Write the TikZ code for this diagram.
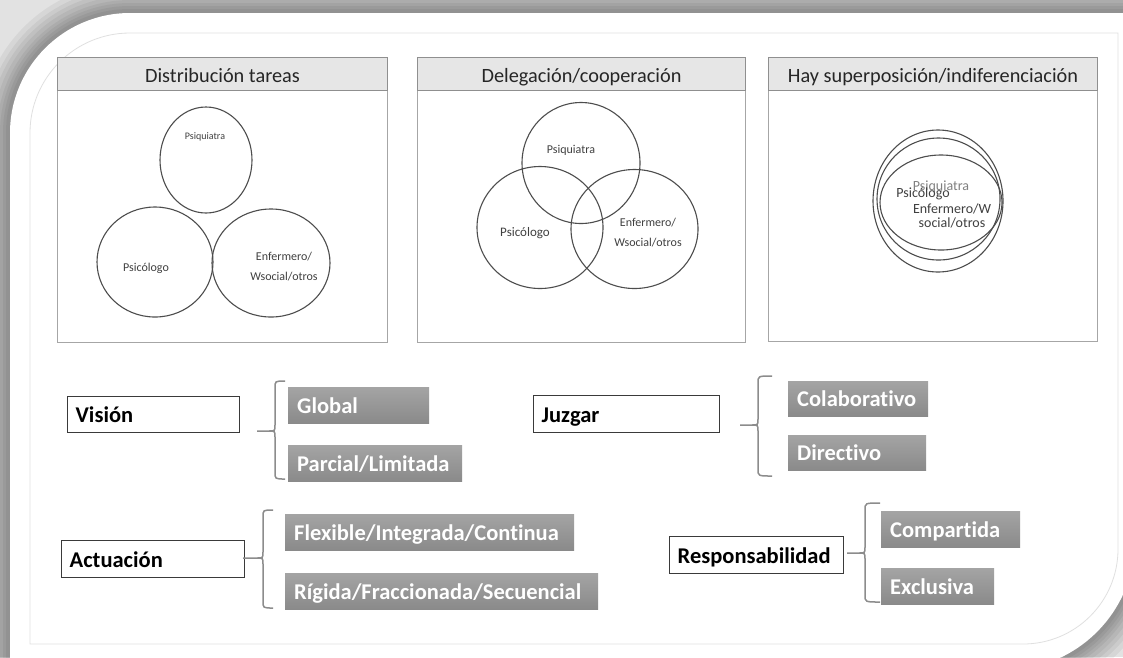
\documentclass[tikz,border=0pt]{standalone}
\usepackage{fontspec}
\setmainfont{Carlito}[Ligatures=NoCommon]
\usetikzlibrary{shapes.geometric}

\definecolor{pagebg}{HTML}{E2E2E2}
\definecolor{innerline}{HTML}{E0E0E0}
\definecolor{panelline}{HTML}{A6A6A6}
\definecolor{hdrline}{HTML}{8F8F8F}
\definecolor{hdrfill}{HTML}{E6E6E6}
\definecolor{ringline}{HTML}{4D4D4D}
\definecolor{keyline}{HTML}{3A3A3A}
\definecolor{optlight}{HTML}{A4A4A4}
\definecolor{optdark}{HTML}{8A8A8A}
\definecolor{braceline}{HTML}{8C8C8C}

% outline of the white card: big rounded top-left and bottom-right corners
\newcommand{\cardoutline}{(10,670) -- (10,133) arc[start angle=180,end angle=270,radius=120]
  -- (1135,13) -- (1135,540) arc[start angle=0,end angle=90,radius=130] -- cycle}

% curly brace opening to the right:
% #1 hook x, #2 spine x, #3 tip x, #4 top y, #5 middle y, #6 bottom y
\newcommand{\openbrace}[6]{%
  \draw[brace] (#1,#4) .. controls (#2,#4) .. (#2,#4+7) -- (#2,#5-6)
    .. controls (#2,#5) .. (#2-6,#5) -- (#3,#5)
    (#2-6,#5) .. controls (#2,#5) .. (#2,#5+6) -- (#2,#6-7)
    .. controls (#2,#6) .. (#1,#6);}

\begin{document}
\begin{tikzpicture}[x=1pt,y=-1pt,
  panel/.style={draw=panelline, line width=1pt, fill=white, anchor=north west,
    inner sep=0pt},
  hdr/.style={draw=hdrline, fill=hdrfill, line width=1pt, anchor=north west,
    inner sep=0pt, minimum height=33pt, text=black!85, text height=16pt,
    text depth=0pt, font=\fontsize{20.3}{24}\selectfont},
  ring/.style={ellipse, draw=ringline, line width=1.1pt, inner sep=0pt},
  tag/.style={text=black!75, inner sep=0pt, align=center,
    font=\fontsize{12}{20}\selectfont},
  key/.style={draw=keyline, line width=1.4pt, fill=white, anchor=north west,
    inner xsep=8pt, inner ysep=0pt, align=left, text=black,
    text height=18pt, text depth=2pt,
    font=\bfseries\fontsize{22.5}{26}\selectfont},
  opt/.style={top color=optlight, bottom color=optdark, anchor=north west,
    inner xsep=9pt, inner ysep=0pt, align=left, text=white,
    text height=18pt, text depth=2pt,
    font=\bfseries\fontsize{22.5}{26}\selectfont},
  brace/.style={draw=braceline, line width=1.5pt}]

\useasboundingbox (0,0) rectangle (1123,657);
\clip (0,0) rectangle (1123,657);

% backdrop and soft shadow round the card
\fill[pagebg] (0,0) rectangle (1123,657);
\foreach \w in {60,50,42,34,26,20,14,8}
  \draw[black, opacity=0.05, line width=\w pt] \cardoutline;
\fill[white] \cardoutline;
\draw[innerline, line width=0.8pt] (30,644) -- (30,133)
  arc[start angle=180,end angle=270,radius=100] -- (1118,33) -- (1118,549)
  arc[start angle=0,end angle=90,radius=95] -- cycle;

% ---- panel 1: distribution of tasks ----
\node[panel, minimum width=330pt, minimum height=285pt] (p1) at (57,57) {};
\node[hdr, minimum width=330pt] (h1) at (p1.north west) {Distribución tareas};
\node[ring, minimum width=92pt, minimum height=106pt] (psq1) at (206,160) {};
\node[ring, minimum width=116pt, minimum height=110pt] (psc1) at (155,262) {};
\node[ring, minimum width=118pt, minimum height=108pt] (enf1) at (271,263) {};
\node[tag, font=\fontsize{10}{12}\selectfont] (tpsq1) at (205,137) {Psiquiatra};
\node[tag] (tpsc1) at (146,268) {Psicólogo};
\node[tag] (tenf1) at (284,267) {Enfermero/\\Wsocial/otros};

% ---- panel 2: delegation / cooperation ----
\node[panel, minimum width=328pt, minimum height=285pt] (p2) at (417,57) {};
\node[hdr, minimum width=328pt] (h2) at (p2.north west) {Delegación/cooperación};
\node[ring, minimum width=118pt, minimum height=121pt] (psq2) at (581,163) {};
\node[ring, minimum width=126pt, minimum height=122pt] (psc2) at (540,227.5) {};
\node[ring, minimum width=127pt, minimum height=119pt] (enf2) at (634.5,229) {};
\node[tag] (tpsq2) at (571,150) {Psiquiatra};
\node[tag, font=\fontsize{13}{20}\selectfont] (tpsc2) at (525,233) {Psicólogo};
\node[tag] (tenf2) at (648,233) {Enfermero/\\Wsocial/otros};

% ---- panel 3: overlap ----
\node[panel, minimum width=329pt, minimum height=284pt] (p3) at (768,57) {};
\node[hdr, minimum width=329pt] (h3) at (p3.north west) {Hay superposición/indiferenciación};
\node[ring, minimum width=130pt, minimum height=142pt] (e1) at (938,201) {};
\node[ring, minimum width=123pt, minimum height=122pt] (e2) at (938.5,199) {};
\node[ring, minimum width=122pt, minimum height=95pt] (e3) at (941,202.5) {};
\node[tag, text=black!50, font=\fontsize{14}{16}\selectfont] (tpsq3) at (941,187) {Psiquiatra};
\node[tag, font=\fontsize{14}{16}\selectfont] (tpsc3) at (923,194) {Psicólogo};
\node[tag, font=\fontsize{14}{14}\selectfont] (tenf3) at (952,216) {Enfermero/W\\social/otros};

% ---- dimensions and their options ----
\node[key, text width=156pt, minimum height=36pt] (vis) at (67,396) {Visión};
\node[opt, text width=123pt, minimum height=36pt] (glob) at (288,387) {Global};
\node[opt, text width=156pt, minimum height=36pt] (parc) at (288,445) {Parcial/Limitada};
\openbrace{285}{275}{257}{381}{431}{479}

\node[key, text width=170pt, minimum height=37pt] (juz) at (533,395) {Juzgar};
\node[opt, text width=122pt, minimum height=35pt] (col) at (788,381) {Colaborativo};
\node[opt, text width=120pt, minimum height=35pt] (dir) at (788,435) {Directivo};
\openbrace{772}{758}{740}{376}{425}{476}

\node[key, text width=167pt, minimum height=37pt] (act) at (61,540) {Actuación};
\node[opt, text width=271pt, minimum height=36pt] (flex) at (285,514) {Flexible/Integrada/Continua};
\node[opt, text width=295pt, minimum height=36pt] (rig) at (285,573) {Rígida/Fraccionada/Secuencial};
\openbrace{273}{263}{243}{510}{558}{608}

\node[key, text width=158pt, minimum height=37pt] (resp) at (669,536) {Responsabilidad};
\node[opt, text width=121pt, minimum height=36pt] (comp) at (881,511) {Compartida};
\node[opt, text width=95pt, minimum height=36pt] (excl) at (881,568) {Exclusiva};
\openbrace{880}{865}{847}{503}{553}{602}

\end{tikzpicture}
\end{document}
